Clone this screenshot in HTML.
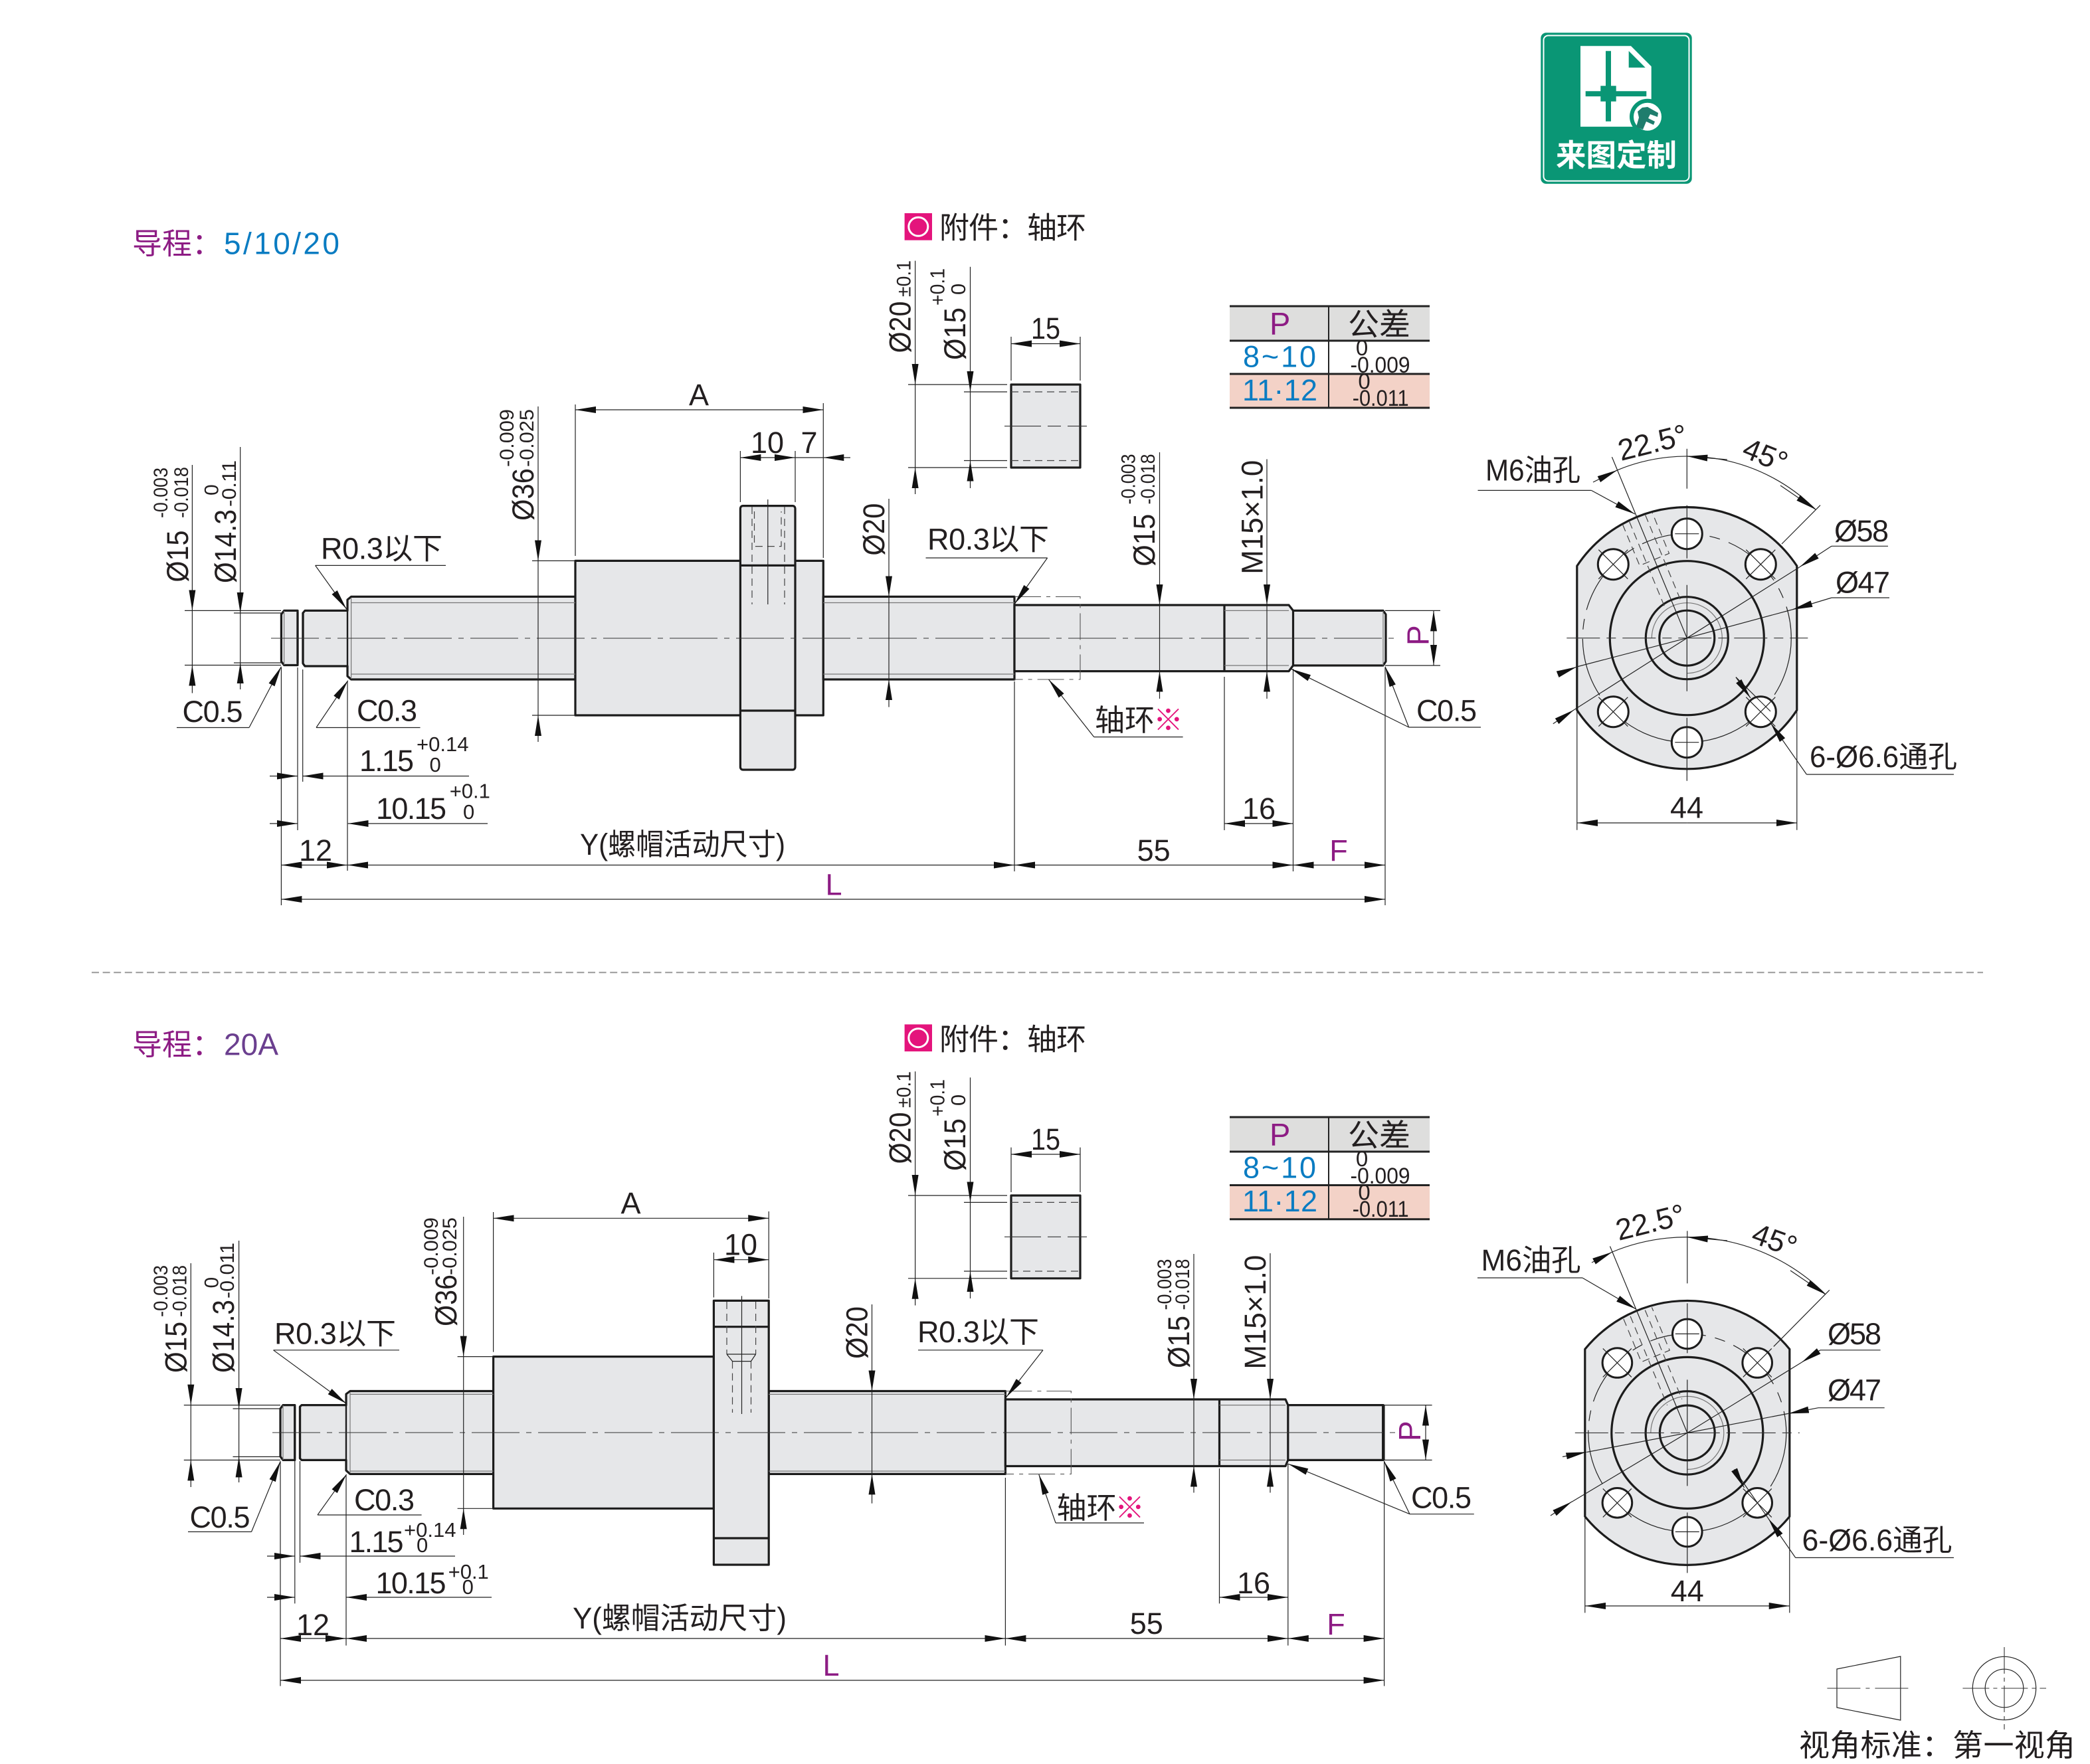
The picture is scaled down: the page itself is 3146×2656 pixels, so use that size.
<!DOCTYPE html>
<html lang="zh"><head><meta charset="utf-8"><title>滚珠丝杠尺寸图</title>
<style>
html,body{margin:0;padding:0;background:#fff}
svg{display:block}
text{font-family:"Liberation Sans","Noto Sans CJK SC",sans-serif;font-size:45px;fill:#231f20}
.s{font-size:30px}.m{font-size:31px}
.c{text-anchor:middle}
.mg{fill:#8d1c84}.bl{fill:#0a7cc2}
.d{stroke:#222;stroke-width:1.2;fill:none}
.o{stroke:#1c1c1c;stroke-width:3.2;fill:#e6e7e9;stroke-linejoin:round}
.k{stroke:#1c1c1c;stroke-width:3.2;fill:none}
.g{stroke:#777;stroke-width:1.2;fill:none}
.cl{stroke:#333;stroke-width:1.1;fill:none;stroke-dasharray:72 10 8 10}
.h{stroke:#444;stroke-width:1.2;fill:none;stroke-dasharray:11 7}
.p{stroke:#555;stroke-width:1.1;fill:none;stroke-dasharray:40 8 6 8}
.w{stroke:#1c1c1c;stroke-width:3;fill:#fff}
.tb{stroke:#222;stroke-width:3;fill:none}
</style></head><body>
<svg xmlns="http://www.w3.org/2000/svg" width="3146" height="2656" viewBox="0 0 3146 2656">
<defs><marker id="a" markerUnits="userSpaceOnUse" markerWidth="32" markerHeight="12" refX="31" refY="6" orient="auto"><path d="M0 1L31 6L0 11Z" fill="#111"/></marker></defs>
<rect width="3146" height="2656" fill="#fff"/>

<!-- badge -->
<rect x="2319.3" y="49.3" width="227.4" height="227.4" rx="8" fill="#0a9675"/>
<rect x="2323.5" y="53.5" width="219" height="219" rx="7" fill="none" stroke="#fff" stroke-width="2"/>
<path d="M2379 69.3H2455L2485.7 100V190.7H2379Z" fill="#fff"/>
<path d="M2451.7 76.7V101.7H2476.7Z" fill="#0a9675"/>
<path d="M2417 76.7h8V129.3h7.7v7.9h45.6v7.9h-45.6v7.6h-7.7v30h-8v-30h-7.7v-7.6h-22.6v-7.9h22.6v-7.9h7.7Z" fill="#0a9675"/>
<circle cx="2480" cy="175.7" r="27" fill="#0a9675"/><circle cx="2480" cy="175.7" r="21" fill="#fff"/>
<path d="M2472 162l8-1 16 9-1 6-11-4-3 6 10 5-2 5-11-5-5 12-10-4 4-14-2-9Z" fill="#1f7d6d"/>
<text x="2342" y="250" textLength="182" lengthAdjust="spacingAndGlyphs" style="font-size:46px;font-weight:700;fill:#fff;font-family:'Noto Sans CJK SC',sans-serif">来图定制</text>

<!-- headings -->
<text x="199" y="382.5" class="mg">导程：</text>
<text x="337" y="382.5" class="bl" textLength="174" style="font-size:46px">5/10/20</text>
<text x="199" y="1588.5" class="mg">导程：</text>
<text x="337" y="1588.5" textLength="82" style="fill:#6b3f8f;font-size:46px">20A</text>
<path d="M138 1464.3H2985" stroke="#9a9a9a" stroke-width="2" stroke-dasharray="11 5.6"/>

<!-- ============ TOP SCREW ============ -->
<path class="o" d="M423.4 925L427.6 919.4H448V1001.5H427.6L423.4 996Z"/>
<path class="o" d="M456 923L459 919.4H523V903L528.6 898.4H866V1023H528.6L523 1018V1003H459L456 999Z"/>
<path class="o" d="M866 844.4H1239.3V1077H866Z"/>
<path class="o" d="M1239.3 898.4H1527V1023H1239.3Z"/>
<path class="o" d="M1527 911H1940L1946.5 919.4H2082L2086 925V996L2082 1002H1946.5L1940 1010.6H1527Z"/>
<rect class="o" x="1114.4" y="761.6" width="82.6" height="397.4" rx="4"/>
<path class="k" d="M1114.4 851.4H1197M1114.4 1070H1197M1843 911V1010.6M1946.5 919.4V1002M448 922V998M456 922V998"/>
<path class="k" d="M523 903V1018" style="stroke-width:2.4"/>
<path class="g" d="M528.6 907.5H866M528.6 1015H866M1239.3 907.5H1527M1239.3 1015H1527M1843 919.4H1940M1843 1002H1940M427.6 920V1001M2082 920V1002M528.6 900V1022"/>
<path class="h" d="M1132 763V910M1181 763V910M1135.5 770V822.6H1176V770"/>
<path class="d" d="M1155.8 752V910"/>
<path class="cl" d="M408 961H2103"/>
<path class="p" d="M1527 898.4H1626V1023H1527"/>

<!-- top ext lines -->
<path class="d" d="M278 919.4H423M278 1001.5H423M352 923H423M352 998H423M801 844.4H866M801 1077H866M866 609V837M1239.3 607V840M1114.4 679V756M1197 679V756M1197 689H1239M423.4 1005V1363M448 1005V1250M455.7 1008V1177M523 1026V1311M1527 1026V1312M1843 1019V1250M1946.5 1007V1312M2085 1005V1363M2085 919.4H2168M2085 1002H2168"/>
<!-- top arrows -->
<g class="d" marker-end="url(#a)">
<path d="M289.4 700V919.4"/><path d="M289.4 1043.6V1001.5"/>
<path d="M361.7 673V923"/><path d="M361.7 1038V998"/>
<path d="M810 612V844.4"/><path d="M810 1117V1077"/>
<path d="M1052 617H866"/><path d="M1052 617H1239.3"/>
<path d="M1155 689H1114.4"/><path d="M1155 689H1197"/><path d="M1280 689H1239.3"/>
<path d="M474.6 851.4L521.6 917"/>
<path d="M375 1095.5L423.4 1003.6"/>
<path d="M476 1095.5L523.7 1024.7"/>
<path d="M406 1168.5H448"/><path d="M706 1168.5H455.7"/>
<path d="M406 1240H448"/><path d="M792 1240H523.7" style="display:none"/><path d="M734 1240H523.7"/>
<path d="M475 1302.5H423.4"/><path d="M475 1302.5H523"/>
<path d="M1000 1302.5H523"/><path d="M1000 1302.5H1527"/>
<path d="M1250 1354H423.4"/><path d="M1250 1354H2085"/>
<path d="M1737 1302.5H1527"/><path d="M1737 1302.5H1946.5"/>
<path d="M2015 1302.5H1946.5"/><path d="M2015 1302.5H2085"/>
<path d="M1895 1240H1843"/><path d="M1895 1240H1946.5"/>
<path d="M1338 751V898.4"/><path d="M1338 1064.6V1023"/>
<path d="M1576.6 840L1527.4 909"/>
<path d="M1745.5 681V911"/><path d="M1745.5 1052V1010.6"/>
<path d="M1907 691.4V911"/><path d="M1907 1052V1010.6"/>
<path d="M1646.7 1109.6L1578.5 1023"/>
<path d="M2120.6 1095L2085 1003.6"/><path d="M2120.6 1095L1943 1007"/>
<path d="M2158 961V919.4"/><path d="M2158 961V1002"/>
</g>
<path class="d" d="M474.6 851.4H671M266 1095.5H375M476 1095.5H632.5M1393.5 840H1576.6M1646.7 1109.6H1780.6M2120.6 1095H2229M1338 898V1023M1745.5 911V1011M1907 911V1011M289.4 919V1002M361.7 923V998M810 844V1077"/>
<!-- top labels -->
<text x="483" y="841.6" textLength="183">R0.3以下</text>
<text x="274.5" y="1087" textLength="91">C0.5</text>
<text x="537" y="1085.7" textLength="91">C0.3</text>
<text x="541" y="1160.8" textLength="82">1.15</text><text x="627" y="1131" class="m">+0.14</text><text x="646.5" y="1162" class="m">0</text>
<text x="566" y="1233" textLength="106">10.15</text><text x="676.7" y="1201.5" class="m">+0.1</text><text x="697" y="1233" class="m">0</text>
<text x="475" y="1296" class="c">12</text>
<text x="873" y="1287" textLength="309" lengthAdjust="spacingAndGlyphs">Y(螺帽活动尺寸)</text>
<text x="1255" y="1347.7" class="mg c">L</text>
<text x="1736.6" y="1296" class="c">55</text>
<text x="2015" y="1296" class="mg c">F</text>
<text x="1895" y="1233" class="c">16</text>
<text x="1052" y="610" class="c">A</text>
<text x="1155" y="682" class="c">10</text>
<text x="1218" y="682" class="c">7</text>
<text x="1396" y="827.5" textLength="183">R0.3以下</text>
<text x="1648" y="1100">轴环</text><text x="1736" y="1100" style="fill:#e4147c">※</text>
<text x="2132" y="1085.7" textLength="91">C0.5</text>
<text transform="translate(283 876.6) rotate(-90)" textLength="78" lengthAdjust="spacingAndGlyphs">Ø15</text>
<text transform="translate(252 780) rotate(-90)" class="s" textLength="76" lengthAdjust="spacingAndGlyphs">-0.003</text>
<text transform="translate(283 780) rotate(-90)" class="s" textLength="77" lengthAdjust="spacingAndGlyphs">-0.018</text>
<text transform="translate(355 878) rotate(-90)" textLength="111" lengthAdjust="spacingAndGlyphs">Ø14.3</text>
<text transform="translate(328.7 746) rotate(-90)" class="s">0</text>
<text transform="translate(355 763) rotate(-90)" class="s" textLength="70" lengthAdjust="spacingAndGlyphs">-0.11</text>
<text transform="translate(803 784) rotate(-90)" textLength="79" lengthAdjust="spacingAndGlyphs">Ø36</text>
<text transform="translate(773 703) rotate(-90)" class="s" textLength="87" lengthAdjust="spacingAndGlyphs">-0.009</text>
<text transform="translate(803 703) rotate(-90)" class="s" textLength="87" lengthAdjust="spacingAndGlyphs">-0.025</text>
<text transform="translate(1331 836.6) rotate(-90)" textLength="79" lengthAdjust="spacingAndGlyphs">Ø20</text>
<text transform="translate(1738 852.8) rotate(-90)" textLength="79" lengthAdjust="spacingAndGlyphs">Ø15</text>
<text transform="translate(1708.6 759.5) rotate(-90)" class="s" textLength="76" lengthAdjust="spacingAndGlyphs">-0.003</text>
<text transform="translate(1738 759.5) rotate(-90)" class="s" textLength="76" lengthAdjust="spacingAndGlyphs">-0.018</text>
<text transform="translate(1900.5 864.7) rotate(-90)" textLength="172" lengthAdjust="spacingAndGlyphs">M15×1.0</text>
<text transform="translate(2150.5 972) rotate(-90)" class="mg" style="font-size:46px">P</text>

<!-- accessory top -->
<rect x="1361.6" y="321" width="41.4" height="40.7" fill="#e4147c"/>
<ellipse cx="1382.3" cy="341.3" rx="14.5" ry="14" fill="none" stroke="#fff" stroke-width="3"/>
<text x="1414" y="358.6" textLength="221">附件：轴环</text>
<rect class="o" x="1522" y="579" width="104" height="125" style="fill:#e6e7e9"/>
<path class="h" d="M1522 590H1626M1522 693.5H1626"/>
<path class="d" d="M1367 579H1516M1367 704H1516M1451 590H1516M1451 693.5H1516M1522 507V573M1626 507V573"/>
<path class="cl" d="M1512 641.6H1636" style="stroke-dasharray:55 10 20 10"/>
<g class="d" marker-end="url(#a)">
<path d="M1377.6 392.6V579"/><path d="M1377.6 744V704"/>
<path d="M1460.5 401.7V590"/><path d="M1460.5 735V693.5"/>
<path d="M1574 517.5H1522"/><path d="M1574 517.5H1626"/>
</g>
<path class="d" d="M1377.6 579V704M1460.5 590V693.5"/>
<text x="1574" y="510" class="c" textLength="44" lengthAdjust="spacingAndGlyphs">15</text>
<text transform="translate(1370.6 531.5) rotate(-90)" textLength="78" lengthAdjust="spacingAndGlyphs">Ø20</text>
<text transform="translate(1370.6 447) rotate(-90)" class="s" textLength="55" lengthAdjust="spacingAndGlyphs">±0.1</text>
<text transform="translate(1452.8 542) rotate(-90)" textLength="79" lengthAdjust="spacingAndGlyphs">Ø15</text>
<text transform="translate(1421.6 460) rotate(-90)" class="m" textLength="56" lengthAdjust="spacingAndGlyphs">+0.1</text>
<text transform="translate(1452.8 444) rotate(-90)" class="m">0</text>
<!-- table top -->
<rect x="1851" y="461" width="301" height="52" fill="#dededd"/>
<rect x="1851" y="563" width="301" height="51" fill="#f3d2c7"/>
<path class="tb" d="M1851 461H2152M1851 513H2152M1851 563H2152M1851 614H2152"/>
<path d="M2000 461V614" stroke="#222" stroke-width="2"/>
<text x="1926.7" y="503.4" class="mg c" style="font-size:47px">P</text>
<text x="2029" y="505" textLength="94" lengthAdjust="spacingAndGlyphs" style="font-size:47px">公差</text>
<text x="1871" y="552.5" class="bl" textLength="110" style="font-size:45px">8~10</text>
<text x="1870" y="603" class="bl" textLength="113" style="font-size:45px">11·12</text>
<text x="2050" y="535" class="m c" style="font-size:33px">0</text>
<text x="2032.5" y="561" class="m" textLength="90" lengthAdjust="spacingAndGlyphs" style="font-size:34px">-0.009</text>
<text x="2053.6" y="585.5" class="m c" style="font-size:33px">0</text>
<text x="2035.7" y="610.8" class="m" textLength="85" lengthAdjust="spacingAndGlyphs" style="font-size:34px">-0.011</text>

<!-- top flange view -->
<g transform="translate(2539.3 960.7)">
<path class="o" d="M-165.5 -108.6A199 199 0 0 1 165.5 -108.6V108.6A199 199 0 0 1 -165.5 108.6Z"/>
<circle r="157" class="d" style="stroke-dasharray:90 14 16 14"/>
<circle r="116" class="k"/><circle r="62" class="k"/><circle r="41.5" class="k"/>
<path class="g" d="M0 53A53 53 0 1 0 -53 0"/>
<g transform="rotate(-22.5)">
<path class="d" d="M0 -295V0"/>
<path class="h" d="M-13 -195V-52M13 -195V-52M-24 -195V-128H24V-195"/>
</g>
<g class="w"><circle cx="0" cy="-157" r="23"/><circle cx="0" cy="157" r="23"/><circle cx="-111" cy="-111" r="23"/><circle cx="111" cy="-111" r="23"/><circle cx="-111" cy="111" r="23"/><circle cx="111" cy="111" r="23"/></g>
<path class="d" d="M-133 -133L-89 -89M-89 -133L-133 -89M133 -133L89 -89M89 -133L133 -89M-133 133L-89 89M-89 133L-133 89M133 133L89 89M89 133L133 89M-18 -157H18M-18 157H18"/>
<path class="d" d="M0 -285V-225M0 -200V-120M0 -80V80M0 120V215"/>
<path class="cl" d="M-181 0H182" style="stroke-dasharray:50 10 14 10"/>
<path class="d" d="M142.7 -141.7L200.7 -200M0 0L169.7 -107M0 0L158 -42.7M0 0L-169.9 108M0 0L-165.8 43.3"/>
<path class="d" d="M73.7 58.9L125.7 110.3"/>
<path class="d" d="M-165.5 110V289M165.5 110V289"/>
</g>
<path class="d" d="M2434.6 707.8A273.7 273.7 0 0 1 2732.8 767"/>
<g class="d" marker-end="url(#a)">
<path d="M2600 692L2539.3 687"/><path d="M2680 731L2732.8 767"/>
<path d="M2398 726L2434.6 707.8"/>
<path d="M2395.4 738.4L2461 774"/>
<path d="M2757 822.3L2709 853.6"/><path d="M2757 900L2697.4 918"/>
<path d="M2337.8 1089.7L2369.4 1068.8"/><path d="M2348 1014L2373.5 1004"/>
<path d="M2613 1019.6L2635 1051"/>
<path d="M2719.4 1166L2665.3 1088.8"/>
<path d="M2539.3 1239H2374"/><path d="M2539.3 1239H2705"/>
</g>
<path class="d" d="M2224.5 738.4H2395.4M2757 822.3H2842M2757 900H2844M2719.4 1166H2941"/>
<text x="2236" y="723.7" textLength="143" lengthAdjust="spacingAndGlyphs">M6油孔</text>
<text transform="translate(2440 694) rotate(-14)">22.5°</text>
<text transform="translate(2620 687) rotate(22)">45°</text>
<text x="2761" y="815" textLength="82">Ø58</text>
<text x="2763" y="892.4" textLength="82">Ø47</text>
<text x="2724" y="1155" textLength="222" lengthAdjust="spacingAndGlyphs">6-Ø6.6通孔</text>
<text x="2539" y="1231.7" class="c">44</text>

<!-- ============ BOTTOM SCREW ============ -->
<path class="o" d="M422 2121L426 2115.6H443.8V2198.4H426L422 2193Z"/>
<path class="o" d="M451.5 2118L454 2115.6H521V2099L527 2094.5H742.6V2219.4H527L521 2214V2198.4H454L451.5 2196Z"/>
<path class="o" d="M742.6 2042.6H1074.4V2271.3H742.6Z"/>
<path class="o" d="M1157.2 2094.5H1513.4V2219.4H1157.2Z"/>
<path class="o" d="M1513.4 2107H1935L1938.8 2115.6H2082.3V2198.4H1938.8L1935 2207.5H1513.4Z"/>
<rect class="o" x="1074.4" y="1958.4" width="82.8" height="397.6"/>
<path class="k" d="M1074.4 1997.7H1157.2M1074.4 2316H1157.2M1835.5 2107V2207.5M1938.8 2115.6V2198.4M443.8 2118V2196M451.5 2118V2196"/>
<path class="k" d="M521 2099V2214" style="stroke-width:2.4"/>
<path class="k" d="M2082.3 2115.6V2198.4" style="stroke-width:4.5"/>
<path class="g" d="M527 2099.4H742.6M527 2215H742.6M1157.2 2099.4H1513.4M1157.2 2215H1513.4M1835.5 2115.6H1935M1835.5 2198.4H1935M426 2116V2198M527 2096V2218"/>
<path class="h" d="M1094 1960V2039M1137.6 1960V2039M1102.5 2049.6V2127M1130.5 2049.6V2127"/>
<path class="d" d="M1094 2039L1102.5 2049.6H1130.5L1137.6 2039M1094 2039H1137.6M1116.5 1951.4V2129"/>
<path class="cl" d="M410 2157H2100"/>
<path class="p" d="M1513.4 2094.5H1612.3V2219.4H1513.4"/>

<path class="d" d="M276.8 2115.6H422M276.8 2198.4H422M350.5 2121H422M350.5 2193.4H422M688.6 2042.6H742.6M688.6 2271.3H742.6M742.6 1825V2035.6M1157.2 1824V1955M1074.4 1886V1953.5M422 2200V2538.6M443.8 2200V2414.4M451.5 2200V2353M521 2221.5V2477.6M1513.4 2225V2477.6M1835.5 2211V2414.4M1938.8 2204V2477.6M2083.6 2200V2538.6M2083.6 2115.6H2155.6M2083.6 2198.4H2155.6"/>
<g class="d" marker-end="url(#a)">
<path d="M287.3 1902V2115.6"/><path d="M287.3 2239V2198.4"/>
<path d="M359.6 1868V2121"/><path d="M359.6 2232V2193.4"/>
<path d="M697.7 1832V2042.6"/><path d="M697.7 2311V2271.3"/>
<path d="M949.5 1834.3H742.6"/><path d="M949.5 1834.3H1157.2"/>
<path d="M1115 1896.7H1074.4"/><path d="M1115 1896.7H1157.2"/>
<path d="M411.5 2032.8L521.6 2113.5"/>
<path d="M378.5 2306.4L422 2200.5"/>
<path d="M478 2281L521.6 2220"/>
<path d="M402 2343H443.8"/><path d="M685 2343H451.5"/>
<path d="M402 2405H443.8"/><path d="M740 2405H521"/>
<path d="M471 2467H422"/><path d="M471 2467H521"/>
<path d="M1000 2467H521"/><path d="M1000 2467H1513.4"/>
<path d="M1250 2530H422"/><path d="M1250 2530H2083.6"/>
<path d="M1726 2467H1513.4"/><path d="M1726 2467H1938.8"/>
<path d="M2011 2467H1938.8"/><path d="M2011 2467H2083.6"/>
<path d="M1887 2405H1835.5"/><path d="M1887 2405H1938.8"/>
<path d="M1312.5 1964V2094.5"/><path d="M1312.5 2263.6V2219.4"/>
<path d="M1570 2032.8L1514.7 2103.6"/>
<path d="M1797 1888V2107"/><path d="M1797 2247.5V2207.5"/>
<path d="M1912 1887V2107"/><path d="M1912 2247.5V2207.5"/>
<path d="M1589 2293L1563.8 2220"/>
<path d="M2122 2279.7L2083.6 2200.5"/><path d="M2122 2279.7L1938.8 2204"/>
<path d="M2146 2157V2115.6"/><path d="M2146 2157V2198.4"/>
</g>
<path class="d" d="M411.5 2032.8H601M283 2306.4H378.5M478 2281H634.6M1382 2032.8H1570M1589 2293H1722M2122 2279.7H2218.8M1312.5 2094V2219M1797 2107V2208M1912 2107V2208M287.3 2116V2198M359.6 2121V2193M697.7 2043V2271"/>
<text x="413" y="2023.7" textLength="183">R0.3以下</text>
<text x="285.5" y="2300" textLength="91">C0.5</text>
<text x="533" y="2274" textLength="91">C0.3</text>
<text x="525.5" y="2337" textLength="82">1.15</text><text x="608" y="2314" class="m">+0.14</text><text x="627" y="2337" class="m">0</text>
<text x="565.5" y="2399" textLength="106">10.15</text><text x="674.6" y="2377" class="m">+0.1</text><text x="695.6" y="2400" class="m">0</text>
<text x="471" y="2462" class="c">12</text>
<text x="862" y="2452" textLength="322" lengthAdjust="spacingAndGlyphs">Y(螺帽活动尺寸)</text>
<text x="1251" y="2523" class="mg c">L</text>
<text x="1725.8" y="2460" class="c">55</text>
<text x="2011" y="2461" class="mg c">F</text>
<text x="1887" y="2399" class="c">16</text>
<text x="949.5" y="1827" class="c">A</text>
<text x="1115" y="1889.7" class="c">10</text>
<text x="1381" y="2021" textLength="183">R0.3以下</text>
<text x="1590.5" y="2286">轴环</text><text x="1678" y="2286" style="fill:#e4147c">※</text>
<text x="2124" y="2270.6" textLength="91">C0.5</text>
<text transform="translate(280.3 2067) rotate(-90)" textLength="77" lengthAdjust="spacingAndGlyphs">Ø15</text>
<text transform="translate(252 1983) rotate(-90)" class="s" textLength="78" lengthAdjust="spacingAndGlyphs">-0.003</text>
<text transform="translate(280.3 1983) rotate(-90)" class="s" textLength="78" lengthAdjust="spacingAndGlyphs">-0.018</text>
<text transform="translate(352 2067) rotate(-90)" textLength="110" lengthAdjust="spacingAndGlyphs">Ø14.3</text>
<text transform="translate(328.7 1939.5) rotate(-90)" class="s">0</text>
<text transform="translate(352 1955) rotate(-90)" class="s" textLength="84" lengthAdjust="spacingAndGlyphs">-0.011</text>
<text transform="translate(687 1997) rotate(-90)" textLength="78" lengthAdjust="spacingAndGlyphs">Ø36</text>
<text transform="translate(659 1920) rotate(-90)" class="s" textLength="87" lengthAdjust="spacingAndGlyphs">-0.009</text>
<text transform="translate(687 1920) rotate(-90)" class="s" textLength="87" lengthAdjust="spacingAndGlyphs">-0.025</text>
<text transform="translate(1305.5 2046) rotate(-90)" textLength="79" lengthAdjust="spacingAndGlyphs">Ø20</text>
<text transform="translate(1790 2060) rotate(-90)" textLength="79" lengthAdjust="spacingAndGlyphs">Ø15</text>
<text transform="translate(1762.8 1972.5) rotate(-90)" class="s" textLength="77" lengthAdjust="spacingAndGlyphs">-0.003</text>
<text transform="translate(1790 1972.5) rotate(-90)" class="s" textLength="77" lengthAdjust="spacingAndGlyphs">-0.018</text>
<text transform="translate(1905 2061.6) rotate(-90)" textLength="172" lengthAdjust="spacingAndGlyphs">M15×1.0</text>
<text transform="translate(2138 2170) rotate(-90)" class="mg" style="font-size:46px">P</text>

<!-- accessory bottom -->
<rect x="1361.6" y="1542.4" width="41.4" height="40.7" fill="#e4147c"/>
<ellipse cx="1382.3" cy="1562.7" rx="14.5" ry="14" fill="none" stroke="#fff" stroke-width="3"/>
<text x="1414" y="1580.7" textLength="221">附件：轴环</text>
<rect class="o" x="1522" y="1800" width="104" height="124.8"/>
<path class="h" d="M1522 1810.4H1626M1522 1914H1626"/>
<path class="d" d="M1367 1800H1516M1367 1924.8H1516M1451 1810.4H1516M1451 1914H1516M1522 1727.6V1795M1626 1727.6V1795"/>
<path class="cl" d="M1512 1862.3H1636" style="stroke-dasharray:55 10 20 10"/>
<g class="d" marker-end="url(#a)">
<path d="M1377.6 1613.3V1800"/><path d="M1377.6 1965.5V1924.8"/>
<path d="M1460.5 1622.4V1810.4"/><path d="M1460.5 1955V1914"/>
<path d="M1574 1738H1522"/><path d="M1574 1738H1626"/>
</g>
<path class="d" d="M1377.6 1800V1925M1460.5 1810V1914"/>
<text x="1574" y="1731" class="c" textLength="44" lengthAdjust="spacingAndGlyphs">15</text>
<text transform="translate(1370.6 1752.5) rotate(-90)" textLength="78" lengthAdjust="spacingAndGlyphs">Ø20</text>
<text transform="translate(1370.6 1668) rotate(-90)" class="s" textLength="55" lengthAdjust="spacingAndGlyphs">±0.1</text>
<text transform="translate(1452.8 1763) rotate(-90)" textLength="79" lengthAdjust="spacingAndGlyphs">Ø15</text>
<text transform="translate(1421.6 1681) rotate(-90)" class="m" textLength="56" lengthAdjust="spacingAndGlyphs">+0.1</text>
<text transform="translate(1452.8 1665) rotate(-90)" class="m">0</text>
<!-- table bottom -->
<rect x="1851" y="1682" width="301" height="52" fill="#dededd"/>
<rect x="1851" y="1784.5" width="301" height="51" fill="#f3d2c7"/>
<path class="tb" d="M1851 1682H2152M1851 1734H2152M1851 1784.5H2152M1851 1835.7H2152"/>
<path d="M2000 1682V1835.7" stroke="#222" stroke-width="2"/>
<text x="1926.7" y="1724.4" class="mg c" style="font-size:47px">P</text>
<text x="2029" y="1726" textLength="94" lengthAdjust="spacingAndGlyphs" style="font-size:47px">公差</text>
<text x="1871" y="1773.5" class="bl" textLength="110" style="font-size:45px">8~10</text>
<text x="1870" y="1824" class="bl" textLength="113" style="font-size:45px">11·12</text>
<text x="2050" y="1756" class="m c" style="font-size:33px">0</text>
<text x="2032.5" y="1782" class="m" textLength="90" lengthAdjust="spacingAndGlyphs" style="font-size:34px">-0.009</text>
<text x="2053.6" y="1806.5" class="m c" style="font-size:33px">0</text>
<text x="2035.7" y="1831.8" class="m" textLength="85" lengthAdjust="spacingAndGlyphs" style="font-size:34px">-0.011</text>

<!-- bottom flange view -->
<g transform="translate(2539.8 2157.4)">
<path class="o" d="M-154 -126A199 199 0 0 1 154 -126V126A199 199 0 0 1 -154 126Z"/>
<circle r="149" class="d" style="stroke-dasharray:85 14 16 14"/>
<circle r="114" class="k"/><circle r="62.7" class="k"/><circle r="41.4" class="k"/>
<path class="g" d="M0 55A55 55 0 1 0 -55 0"/>
<g transform="rotate(-22.5)">
<path class="d" d="M0 -304V0"/>
<path class="h" d="M-12 -195V-50M12 -195V-50M-23 -195V-125H23V-195"/>
</g>
<g class="w"><circle cx="0" cy="-149" r="22.3"/><circle cx="0" cy="149" r="22.3"/><circle cx="-105.4" cy="-105.4" r="22.3"/><circle cx="105.4" cy="-105.4" r="22.3"/><circle cx="-105.4" cy="105.4" r="22.3"/><circle cx="105.4" cy="105.4" r="22.3"/></g>
<path class="d" d="M-127 -127L-84 -84M-84 -127L-127 -84M127 -127L84 -84M84 -127L127 -84M-127 127L-84 84M-84 127L-127 84M127 127L84 84M84 127L127 84M-18 -149H18M-18 149H18"/>
<path class="d" d="M0 -304V-225M0 -195V-120M0 -80V80M0 120V211"/>
<path class="cl" d="M-169 0H169" style="stroke-dasharray:50 10 14 10"/>
<path class="d" d="M130 -130L214 -215M0 0L172 -106M0 0L152 -29M0 0L-174 104M0 0L-151 29M70.6 55.2L122 128.9"/>
<path class="d" d="M-154 128V271M154 128V271"/>
</g>
<path class="d" d="M2427 1885A294.5 294.5 0 0 1 2748 1949"/>
<g class="d" marker-end="url(#a)">
<path d="M2600 1868L2539.8 1862.8"/><path d="M2695 1913L2748 1949"/>
<path d="M2396 1901L2427 1885"/>
<path d="M2382 1924L2462.5 1971"/>
<path d="M2740 2032.8L2711.8 2051.4"/><path d="M2737 2119.7L2691.9 2128.4"/>
<path d="M2334 2282L2366 2261"/><path d="M2352 2193.4L2388.3 2186.3"/>
<path d="M2610.4 2212.6L2625.5 2240"/>
<path d="M2702.7 2345.4L2661.7 2286.3"/>
<path d="M2539.8 2418H2386"/><path d="M2539.8 2418H2693.7"/>
</g>
<path class="d" d="M2224 1924H2382M2740 2032.8H2830.6M2737 2119.7H2836.7M2702.7 2345.4H2941"/>
<text x="2229.5" y="1913" textLength="150" lengthAdjust="spacingAndGlyphs">M6油孔</text>
<text transform="translate(2436.6 1868) rotate(-14)">22.5°</text>
<text transform="translate(2634 1870) rotate(20)">45°</text>
<text x="2751" y="2024" textLength="81">Ø58</text>
<text x="2751" y="2108.7" textLength="81">Ø47</text>
<text x="2712.5" y="2334.4" textLength="226" lengthAdjust="spacingAndGlyphs">6-Ø6.6通孔</text>
<text x="2539.8" y="2411" class="c">44</text>

<!-- view icon -->
<path class="d" d="M2765 2513L2860.8 2494V2590L2765 2571Z"/>
<path class="cl" d="M2750.4 2542H2874.7" style="stroke-dasharray:50 8 6 8"/>
<circle cx="3017" cy="2542" r="47.7" class="d"/><circle cx="3017" cy="2542" r="28.8" class="d"/>
<path class="cl" d="M2954.4 2542H3080M3017 2480V2604" style="stroke-dasharray:40 6 6 6"/>
<text x="2708" y="2644" textLength="416" lengthAdjust="spacing" style="font-size:46px">视角标准：第一视角</text>
</svg>
</body></html>
